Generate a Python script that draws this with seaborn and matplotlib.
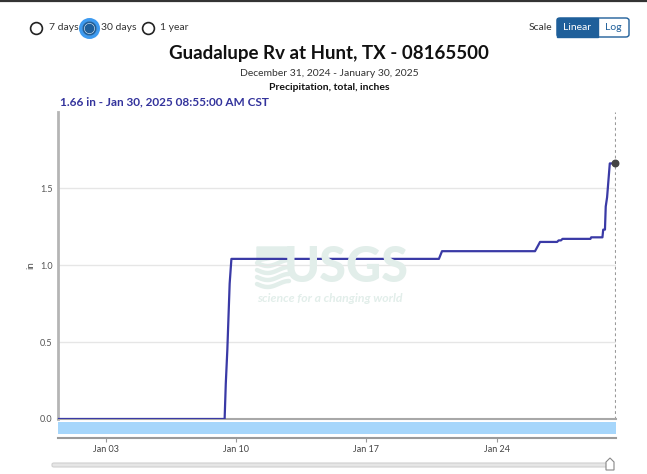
import numpy as np
import pandas as pd
import matplotlib
matplotlib.use("Agg")
import matplotlib.pyplot as plt
import seaborn as sns
from matplotlib.patches import FancyBboxPatch, Rectangle, Polygon

# --- data ---
times = [
    "2024-12-31 08:55", "2025-01-09 09:00", "2025-01-09 10:30", "2025-01-09 12:30",
    "2025-01-09 15:30", "2025-01-09 17:45", "2025-01-20 21:30", "2025-01-21 01:30",
    "2025-01-26 01:30", "2025-01-26 08:00", "2025-01-27 06:00", "2025-01-27 08:00",
    "2025-01-27 11:00", "2025-01-27 13:00", "2025-01-29 01:00", "2025-01-29 02:00",
    "2025-01-29 16:30", "2025-01-29 17:30", "2025-01-29 19:45", "2025-01-29 20:45",
    "2025-01-29 22:30", "2025-01-30 02:00", "2025-01-30 08:55",
]
inches = [
    0.00, 0.00, 0.23, 0.45,
    0.88, 1.04, 1.04, 1.09,
    1.09, 1.15, 1.15, 1.16,
    1.16, 1.17, 1.17, 1.18,
    1.18, 1.23, 1.23, 1.38,
    1.44, 1.66, 1.66,
]
tick_days = ["2025-01-03", "2025-01-10", "2025-01-17", "2025-01-24"]
tick_labels = ["Jan 03", "Jan 10", "Jan 17", "Jan 24"]
y_ticks = [0.0, 0.5, 1.0, 1.5]
period_labels = ["7 days", "30 days", "1 year"]
scale_labels = ["Linear", "Log"]

W, H = 647, 474
LINE = "#3a3aa6"
GRAY_TXT = "#555555"
DARK_BLUE = "#1f5f9a"


def fx(px):
    return np.asarray(px) / W


def fy(py):
    return 1 - np.asarray(py) / H


def fig_marker(fig, x, y, **kw):
    fig.add_artist(plt.Line2D([fx(x)], [fy(y)], marker="o", linestyle="none",
                              transform=fig.transFigure, **kw))


df = pd.DataFrame({"time": pd.to_datetime(times), "value": inches})
x_start = pd.Timestamp("2024-12-31 10:00")
x_end = pd.Timestamp("2025-01-30 10:00")

sns.set_theme(style="white")
plt.rcParams["font.family"] = ["Lato", "DejaVu Sans"]

fig = plt.figure(figsize=(W / 100, H / 100), dpi=100)

# watermark (drawn behind a transparent plot area)
wm = "#e2eeea"
fig.text(fx(346), fy(267), "USGS", fontsize=35, fontweight="black", color=wm,
         ha="center", va="center", zorder=0)
fig.text(fx(330), fy(298), "science for a changing world", fontsize=8.8,
         fontweight="bold", style="italic", color=wm, ha="center", va="center",
         zorder=0)
for k in range(4):
    xs = np.linspace(257, 289, 30)
    ys = 263 + k * 7 + 3 * np.sin((xs - 257) / 32 * np.pi * 1.5)
    fig.add_artist(plt.Line2D(fx(xs), fy(ys), color=wm, linewidth=3.2,
                              transform=fig.transFigure, zorder=0))
fig.add_artist(Polygon([[fx(257), fy(247)], [fx(289), fy(247)], [fx(289), fy(256)],
                        [fx(257), fy(262)]], closed=True, color=wm,
                       transform=fig.transFigure, zorder=0))

# main plot area
ax = fig.add_axes([fx(58), fy(419), fx(616) - fx(58), fy(112) - fy(419)])
ax.set_facecolor("none")
sns.lineplot(data=df, x="time", y="value", ax=ax, color=LINE, linewidth=1.6,
             zorder=4)
last = df.iloc[-1]
ax.scatter([last["time"]], [last["value"]], s=22, color="#444444", zorder=5,
           clip_on=False)
ax.axvline(last["time"], color="#999999", linewidth=0.8, linestyle=(0, (2.5, 2.5)),
           zorder=1)
ax.set_xlim(x_start, x_end)
ax.set_ylim(0, 1.994)
ax.set_yticks(y_ticks)
ax.set_yticklabels([f"{v:.1f}" for v in y_ticks], fontsize=6.5, color=GRAY_TXT)
ax.tick_params(axis="y", length=0, pad=4)
ax.set_xticks([])
ax.set_xlabel("")
ax.set_ylabel("in", fontsize=7, color=GRAY_TXT)
ax.yaxis.set_label_coords((35 - 58) / 558, 0.5)
ax.grid(axis="y", color="#e6e6e6", linewidth=1)
for s in ["top", "right"]:
    ax.spines[s].set_visible(False)
ax.spines["left"].set_color("#b5b5b5")
ax.spines["left"].set_linewidth(2)
ax.spines["bottom"].set_color("#a8a8a8")
ax.spines["bottom"].set_linewidth(1.5)

# brush strip with date axis
ax2 = fig.add_axes([fx(58), fy(438), fx(616) - fx(58), fy(421) - fy(438)])
ax2.set_xlim(x_start, x_end)
ax2.set_ylim(0, 1)
ax2.axhspan(0.24, 0.94, color="#a6d6fb", linewidth=0)
ax2.set_yticks([])
ax2.set_xticks(pd.to_datetime(tick_days))
ax2.set_xticklabels(tick_labels, fontsize=6.5, color="#444444")
ax2.tick_params(axis="x", length=3, width=0.8, color="#999999", pad=2,
                bottom=True)
for s in ["top", "right", "left"]:
    ax2.spines[s].set_visible(False)
ax2.spines["bottom"].set_color("#9a9a9a")
ax2.spines["bottom"].set_linewidth(1.5)
ax2.set_facecolor("none")

# titles
fig.text(fx(329), fy(54), "Guadalupe Rv at Hunt, TX - 08165500", fontsize=13.5,
         fontweight="bold", color="#111111", ha="center", va="center")
fig.text(fx(329), fy(73), "December 31, 2024 - January 30, 2025", fontsize=7.5,
         color="#333333", ha="center", va="center")
fig.text(fx(329), fy(87), "Precipitation, total, inches", fontsize=7.5,
         fontweight="bold", color="#111111", ha="center", va="center")
fig.text(fx(60), fy(102), "1.66 in - Jan 30, 2025 08:55:00 AM CST", fontsize=8.5,
         fontweight="bold", color="#33339c", ha="left", va="center")

# period radio buttons
radio_x = [36, 89, 148]
text_x = [49, 101, 160]
for i, (lab, cx, tx) in enumerate(zip(period_labels, radio_x, text_x)):
    if i == 1:
        fig_marker(fig, cx, 28, markersize=12.5, markerfacecolor="#ffffff",
                   markeredgecolor="#3d9af0", markeredgewidth=2.6)
        fig_marker(fig, cx, 28, markersize=9, markerfacecolor="#ffffff",
                   markeredgecolor=DARK_BLUE, markeredgewidth=1.3)
        fig_marker(fig, cx, 28, markersize=6, markerfacecolor=DARK_BLUE,
                   markeredgecolor=DARK_BLUE)
    else:
        fig_marker(fig, cx, 28, markersize=8.5, markerfacecolor="#ffffff",
                   markeredgecolor="#222222", markeredgewidth=1.2)
    fig.text(fx(tx), fy(28), lab, fontsize=7.5, color="#333333", ha="left",
             va="center")

# scale toggle
fig.text(fx(552), fy(27), "Scale", fontsize=7.5, color="#333333", ha="right",
         va="center")
fig.add_artist(FancyBboxPatch((fx(557), fy(37)), fx(629) - fx(557), fy(18) - fy(37),
                              boxstyle="round,pad=0,rounding_size=0.005",
                              facecolor="#ffffff", edgecolor=DARK_BLUE, linewidth=1,
                              transform=fig.transFigure))
fig.add_artist(Rectangle((fx(557), fy(37)), fx(598) - fx(557), fy(18) - fy(37),
                         facecolor=DARK_BLUE, edgecolor=DARK_BLUE,
                         transform=fig.transFigure))
fig.text(fx(577.5), fy(27.5), scale_labels[0], fontsize=7.5, color="#ffffff",
         ha="center", va="center")
fig.text(fx(613.5), fy(27.5), scale_labels[1], fontsize=7.5, color=DARK_BLUE,
         ha="center", va="center")

# top border
fig.add_artist(plt.Line2D([0, 1], [fy(0.8), fy(0.8)], color="#333333", linewidth=1.6,
                          transform=fig.transFigure))

# slider
fig.add_artist(FancyBboxPatch((fx(52), fy(467)), fx(612) - fx(52), fy(463) - fy(467),
                              boxstyle="round,pad=0,rounding_size=0.003",
                              facecolor="#e6e6e6", edgecolor="#d0d0d0", linewidth=0.8,
                              transform=fig.transFigure))
fig.add_artist(Polygon([[fx(606), fy(470)], [fx(614), fy(470)], [fx(614), fy(462)],
                        [fx(610), fy(458)], [fx(606), fy(462)]], closed=True,
                       facecolor="#ffffff", edgecolor="#888888", linewidth=0.8,
                       transform=fig.transFigure))

fig.savefig("out.png", dpi=100)
